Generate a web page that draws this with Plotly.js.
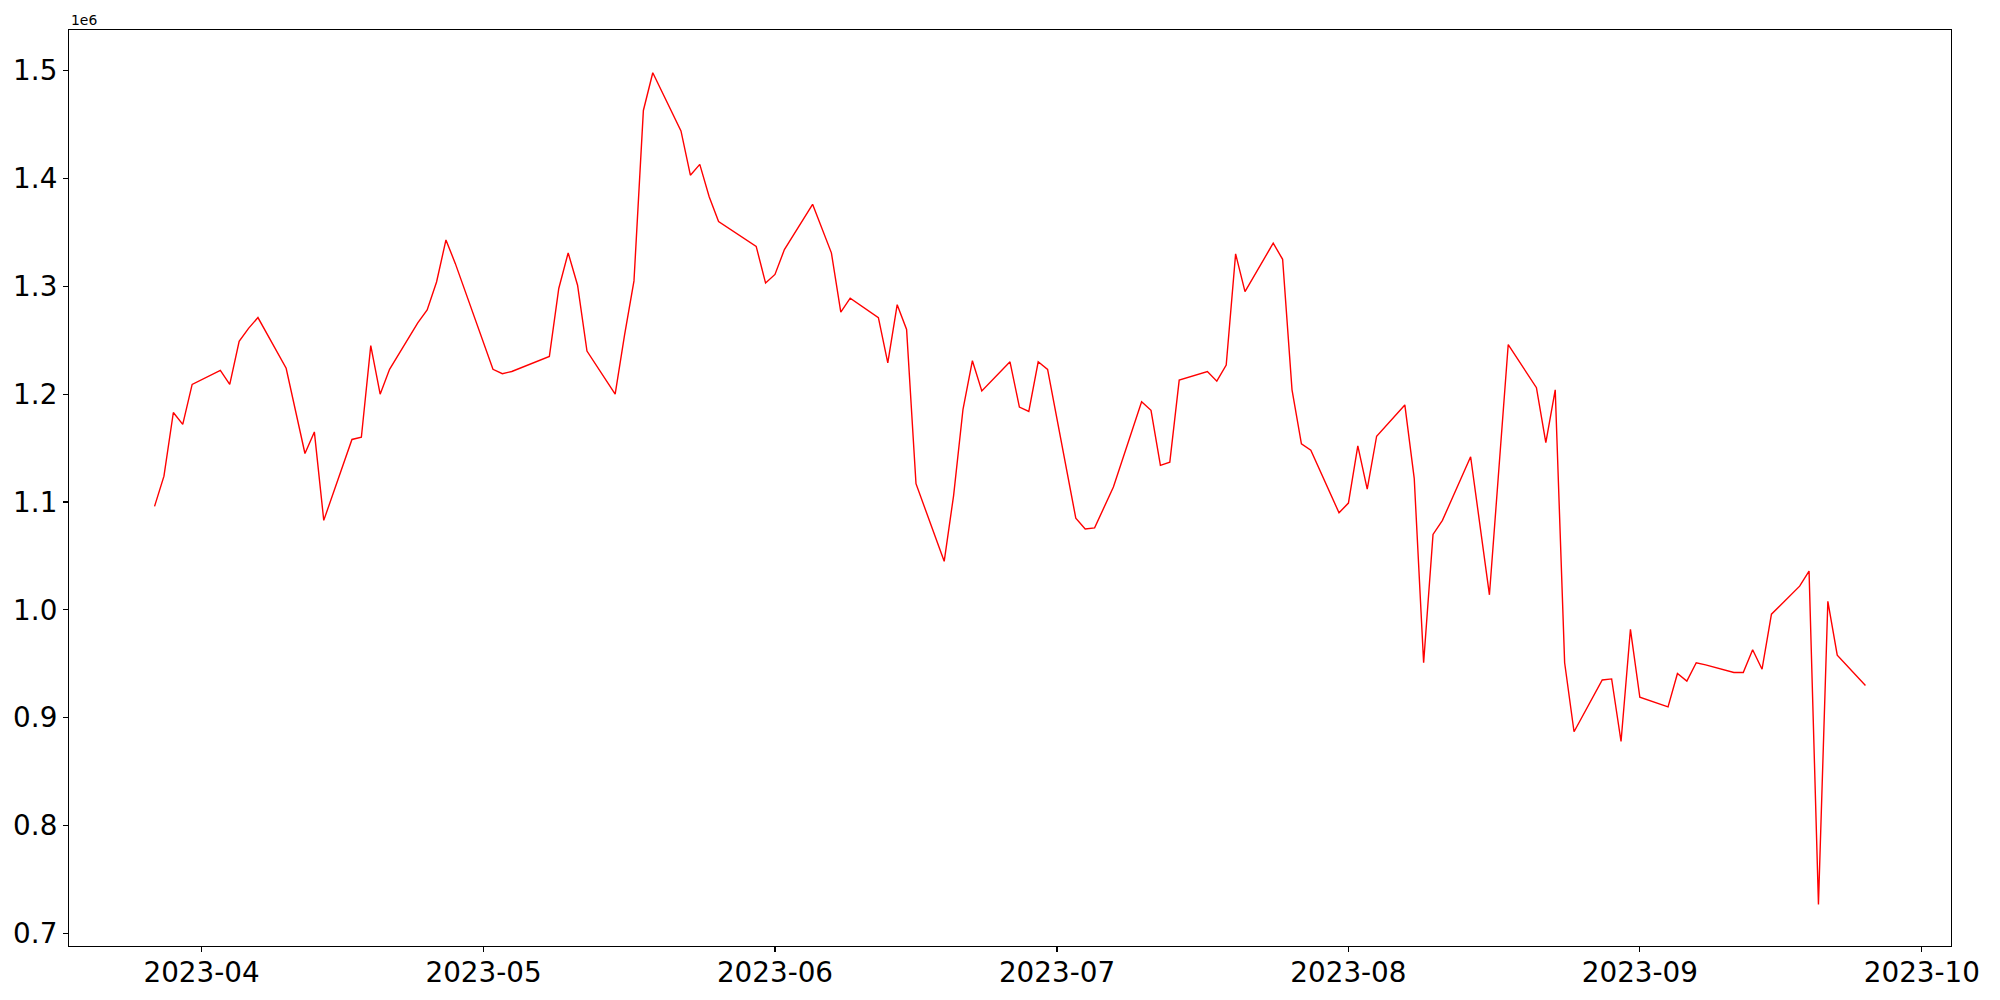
<!DOCTYPE html>
<html>
<head>
<meta charset="utf-8">
<script src="https://cdn.plot.ly/plotly-3.0.1.min.js"></script>
<style>html,body{margin:0;padding:0;background:#fff;}#chart{width:2000px;height:1000px;}</style>
</head>
<body>
<div id="chart"></div>
<script>
const dates = [
  "2023-03-27","2023-03-28","2023-03-29","2023-03-30","2023-03-31",
  "2023-04-03","2023-04-04","2023-04-05","2023-04-06","2023-04-07",
  "2023-04-10","2023-04-11","2023-04-12","2023-04-13","2023-04-14",
  "2023-04-17","2023-04-18","2023-04-19","2023-04-20","2023-04-21",
  "2023-04-24","2023-04-25","2023-04-26","2023-04-27","2023-04-28",
  "2023-05-02","2023-05-03","2023-05-04",
  "2023-05-08","2023-05-09","2023-05-10","2023-05-11","2023-05-12",
  "2023-05-15","2023-05-16","2023-05-17","2023-05-18","2023-05-19",
  "2023-05-22","2023-05-23","2023-05-24","2023-05-25","2023-05-26",
  "2023-05-30","2023-05-31","2023-06-01","2023-06-02",
  "2023-06-05","2023-06-07","2023-06-08","2023-06-09",
  "2023-06-12","2023-06-13","2023-06-14","2023-06-15","2023-06-16",
  "2023-06-19","2023-06-20","2023-06-21","2023-06-22","2023-06-23",
  "2023-06-26","2023-06-27","2023-06-28","2023-06-29","2023-06-30",
  "2023-07-03","2023-07-04","2023-07-05","2023-07-07",
  "2023-07-10","2023-07-11","2023-07-12","2023-07-13","2023-07-14",
  "2023-07-17","2023-07-18","2023-07-19","2023-07-20","2023-07-21",
  "2023-07-24","2023-07-25","2023-07-26","2023-07-27","2023-07-28",
  "2023-07-31","2023-08-01","2023-08-02","2023-08-03","2023-08-04",
  "2023-08-07","2023-08-08","2023-08-09","2023-08-10","2023-08-11",
  "2023-08-14","2023-08-16","2023-08-18",
  "2023-08-21","2023-08-22","2023-08-23","2023-08-24","2023-08-25",
  "2023-08-28","2023-08-29","2023-08-30","2023-08-31","2023-09-01",
  "2023-09-04","2023-09-05","2023-09-06","2023-09-07","2023-09-08",
  "2023-09-11","2023-09-12","2023-09-13","2023-09-14","2023-09-15",
  "2023-09-18","2023-09-19","2023-09-20","2023-09-21","2023-09-22",
  "2023-09-25"
];
const values = [
  1096000,1124000,1183000,1172000,1209000,
  1222000,1209000,1249000,1261000,1271000,
  1224000,1183000,1145000,1165000,1083000,
  1158000,1160000,1245000,1200000,1223000,
  1266000,1278000,1304000,1343000,1321000,
  1223000,1219000,1221000,
  1235000,1298000,1331000,1301000,1240000,
  1200000,1255000,1305000,1463000,1498000,
  1444000,1403000,1413000,1383000,1360000,
  1337000,1303000,1311000,1334000,
  1376000,1331000,1276000,1289000,
  1271000,1229000,1283000,1260000,1117000,
  1045000,1106000,1186000,1231000,1203000,
  1230000,1188000,1184000,1230000,1223000,
  1085000,1075000,1076000,1114000,
  1193000,1185000,1134000,1137000,1213000,
  1221000,1212000,1227000,1330000,1295000,
  1340000,1325000,1204000,1154000,1148000,
  1090000,1099000,1152000,1112000,1161000,
  1190000,1122000,951000,1070000,1083000,
  1142000,1014000,1246000,
  1206000,1155000,1204000,951000,887000,
  935000,936000,878000,982000,919000,
  910000,941000,934000,951000,949000,
  942000,942000,963000,945000,996000,
  1022000,1036000,727000,1008000,958000,
  930000
];
const yTickVals = [700000,800000,900000,1000000,1100000,1200000,1300000,1400000,1500000];
const yTickText = ["0.7","0.8","0.9","1.0","1.1","1.2","1.3","1.4","1.5"];
const xTickVals = ["2023-04-01","2023-05-01","2023-06-01","2023-07-01","2023-08-01","2023-09-01","2023-10-01"];
const xTickText = ["2023-04","2023-05","2023-06","2023-07","2023-08","2023-09","2023-10"];
const offsetText = "1e6";

const trace = {
  x: dates, y: values, type: "scatter", mode: "lines",
  line: {color: "#ff0000", width: 1.4},
  hoverinfo: "x+y"
};
const font = {family: "DejaVu Sans, sans-serif", color: "#000"};
const layout = {
  width: 2000, height: 1000,
  margin: {l: 69, r: 48.5, t: 30, b: 53.5, pad: 0},
  paper_bgcolor: "#fff", plot_bgcolor: "#fff",
  showlegend: false,
  font: font,
  xaxis: {
    type: "date",
    range: ["2023-03-17 21:36", "2023-10-04 02:24"],
    tickmode: "array", tickvals: xTickVals, ticktext: xTickText,
    ticks: "outside", ticklen: 5, tickwidth: 1.1, tickcolor: "#000",
    ticklabelstandoff: -3,
    tickfont: {family: "DejaVu Sans", size: 27.8, color: "#000"},
    showgrid: false, zeroline: false,
    showline: true, linecolor: "#000", linewidth: 1.1, mirror: true
  },
  yaxis: {
    range: [688400, 1537600],
    tickmode: "array", tickvals: yTickVals, ticktext: yTickText,
    ticks: "outside", ticklen: 5, tickwidth: 1.1, tickcolor: "#000",
    tickfont: {family: "DejaVu Sans", size: 27.8, color: "#000"},
    showgrid: false, zeroline: false,
    showline: true, linecolor: "#000", linewidth: 1.1, mirror: true
  },
  annotations: [{
    text: offsetText, xref: "paper", yref: "paper",
    x: 0, y: 1, xanchor: "left", yanchor: "bottom", yshift: 0,
    showarrow: false,
    font: {family: "DejaVu Sans", size: 13.9, color: "#000"}
  }]
};
Plotly.newPlot("chart", [trace], layout, {displayModeBar: false, staticPlot: true});
</script>
</body>
</html>
